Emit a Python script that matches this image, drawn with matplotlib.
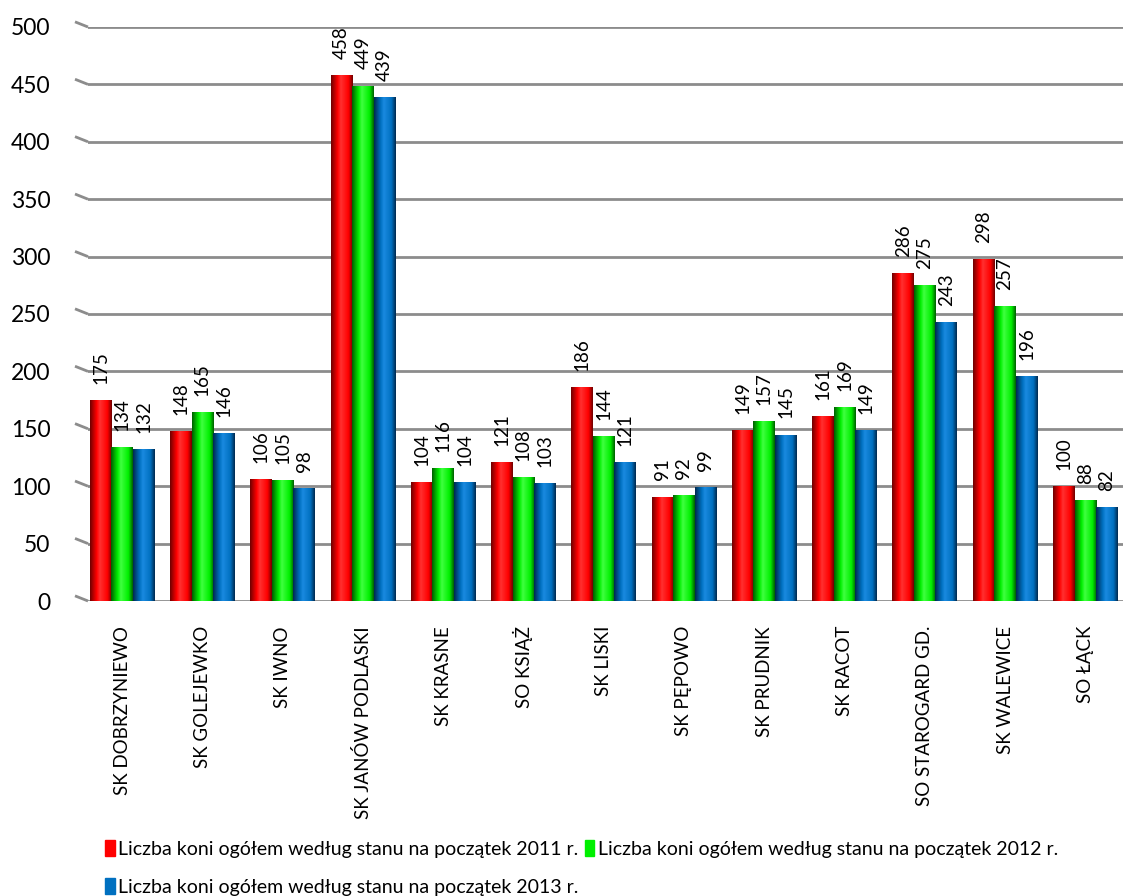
import matplotlib.pyplot as plt
import numpy as np
from matplotlib.colors import LinearSegmentedColormap

stadniny = ['SK DOBRZYNIEWO', 'SK GOLEJEWKO', 'SK IWNO', 'SK JANÓW PODLASKI',
            'SK KRASNE', 'SO KSIĄŻ', 'SK LISKI', 'SK PĘPOWO', 'SK PRUDNIK',
            'SK RACOT', 'SO STAROGARD GD.', 'SK WALEWICE', 'SO ŁĄCK']
konie_2011 = [175, 148, 106, 458, 104, 121, 186, 91, 149, 161, 286, 298, 100]
konie_2012 = [134, 165, 105, 449, 116, 108, 144, 92, 157, 169, 275, 257, 88]
konie_2013 = [132, 146, 98, 439, 104, 103, 121, 99, 145, 149, 243, 196, 82]
labels = ['Liczba koni ogółem według stanu na początek 2011 r.',
          'Liczba koni ogółem według stanu na początek 2012 r.',
          'Liczba koni ogółem według stanu na początek 2013 r.']

kolory = ['#ff0000', '#00f000', '#0070c0']
ciemne = ['#700000', '#006000', '#002a50']
jasne = ['#ff3030', '#40ff40', '#1a8ae0']

plt.rcParams['font.family'] = ['Lato', 'DejaVu Sans']

fig = plt.figure(figsize=(11.23, 8.96), dpi=100)
ax = fig.add_axes([88/1123, 1-601/896, 1-88/1123, (601-27)/896])

x = np.arange(len(stadniny))
w = 0.268
seria = [konie_2011, konie_2012, konie_2013]

# siatka z "perspektywa"
for v in range(0, 501, 50):
    ax.axhline(v, color='#8c8c8c', lw=2, zorder=0)
    ax.plot([-13/1035, 0], [v + 4.5, v], transform=ax.get_yaxis_transform(),
            color='#8c8c8c', lw=2, clip_on=False, solid_capstyle='butt')

grad = np.interp(np.linspace(0, 1, 64), [0, 0.3, 0.45, 0.8, 1], [0, 0.25, 0.5, 0.75, 1.0])[None, :]
for i in range(3):
    bars = ax.bar(x + (i - 1) * w, seria[i], w, color=kolory[i], zorder=2)
    cmap = LinearSegmentedColormap.from_list('c%d' % i,
                                             [ciemne[i], kolory[i], jasne[i], kolory[i], ciemne[i]],
                                             N=256)
    for b, val in zip(bars, seria[i]):
        im = ax.imshow(grad, cmap=cmap, aspect='auto', zorder=3,
                       extent=[b.get_x(), b.get_x() + b.get_width(), 0, b.get_height()])
        im.set_clip_path(b)
        ax.text(b.get_x() + b.get_width() / 2, val + 14, str(val), rotation=90,
                ha='center', va='bottom', fontsize=13.5, zorder=4)

ax.set_xlim(-0.424, 12.47)
ax.set_ylim(0, 500)

for s in ax.spines.values():
    s.set_visible(False)
ax.set_yticks(range(0, 501, 50))
ax.tick_params(axis='y', length=0, labelsize=16.5, pad=27)
ax.set_xticks(x)
ax.set_xticklabels(stadniny, rotation=90, fontsize=13.5)
ax.tick_params(axis='x', length=0, pad=18)

handles = [plt.Rectangle((0, 0), 1, 1, color=c) for c in kolory]
# kolejnosc tak, zeby 2013 byl w drugim wierszu
fig.legend([handles[0], handles[2], handles[1]], [labels[0], labels[2], labels[1]],
           loc='upper left', bbox_to_anchor=(97/1123, 1-832/896),
           ncol=2, frameon=False, fontsize=14, handlelength=0.5, handleheight=0.9,
           handletextpad=0.2, columnspacing=0.3, labelspacing=1.05, borderaxespad=0)

fig.savefig('out.png', dpi=100)
